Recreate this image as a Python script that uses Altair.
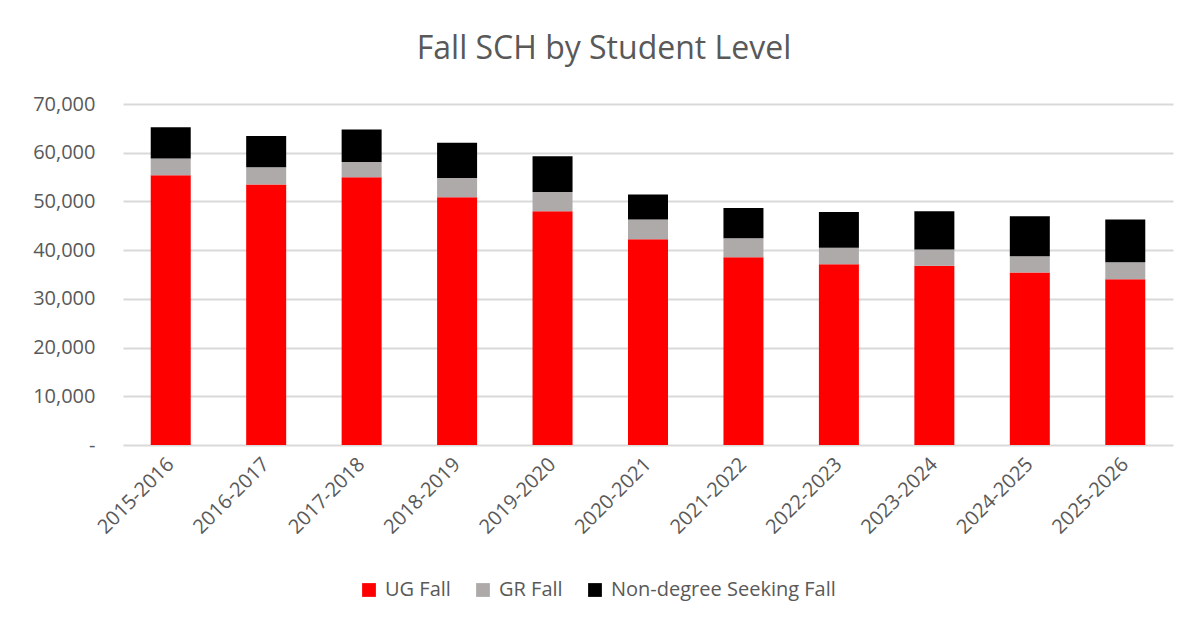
import altair as alt
import pandas as pd

years = ["2015-2016", "2016-2017", "2017-2018", "2018-2019", "2019-2020", "2020-2021",
         "2021-2022", "2022-2023", "2023-2024", "2024-2025", "2025-2026"]
ug = [55370, 53460, 54960, 50860, 47990, 42250, 38560, 37120, 36780, 35410, 34040]
gr = [3430, 3550, 3140, 3960, 3960, 4030, 3890, 3350, 3350, 3350, 3490]
nd = [6420, 6430, 6640, 7250, 7320, 5130, 6220, 7380, 7860, 8200, 8750]

series = ["UG Fall", "GR Fall", "Non-degree Seeking Fall"]
colors = ["#FF0000", "#AEAAAA", "#000000"]

rows = []
for i, y in enumerate(years):
    for k, (name, vals) in enumerate(zip(series, [ug, gr, nd])):
        rows.append({"year": y, "series": name, "value": vals[i], "order": k})
df = pd.DataFrame(rows)

FONT = "Open Sans"
GREY = "#595959"

chart = alt.Chart(df).mark_bar(size=40).encode(
    x=alt.X("year:N", sort=years, title=None,
            scale=alt.Scale(paddingInner=0.58, paddingOuter=0.29),
            axis=alt.Axis(labelAngle=-45, labelFont=FONT, labelFontSize=20,
                          labelColor=GREY, ticks=False, domain=False,
                          labelPadding=16, labelAlign="right", labelBaseline="middle")),
    y=alt.Y("value:Q", stack="zero", title=None,
            scale=alt.Scale(domain=[0, 70000]),
            axis=alt.Axis(values=[0, 10000, 20000, 30000, 40000, 50000, 60000, 70000],
                          labelExpr="datum.value == 0 ? '-' : format(datum.value, ',')",
                          labelFont=FONT, labelFontSize=20, labelColor=GREY,
                          ticks=False, domain=False, labelPadding=28,
                          gridColor="#D9D9D9", gridWidth=2)),
    color=alt.Color("series:N", sort=series,
                    scale=alt.Scale(domain=series, range=colors),
                    legend=alt.Legend(title=None, orient="none", direction="horizontal",
                                      legendX=236, legendY=476,
                                      labelFont=FONT, labelFontSize=20, labelColor=GREY,
                                      labelLimit=0,
                                      symbolType="square", symbolSize=190,
                                      symbolStrokeWidth=0, columnPadding=22,
                                      labelOffset=6)),
    order=alt.Order("order:Q"),
).properties(
    width=1050,
    height=341,
    title=alt.TitleParams("Fall SCH by Student Level", font=FONT, fontSize=32,
                          fontWeight="normal", color=GREY, anchor="middle",
                          offset=28, dx=-44),
    padding={"left": 115, "top": 96, "right": 18, "bottom": 170},
    autosize=alt.AutoSizeParams(type="none"),
).configure_view(stroke=None)

chart.save("out.html", embed_options={"renderer": "svg", "actions": False})
